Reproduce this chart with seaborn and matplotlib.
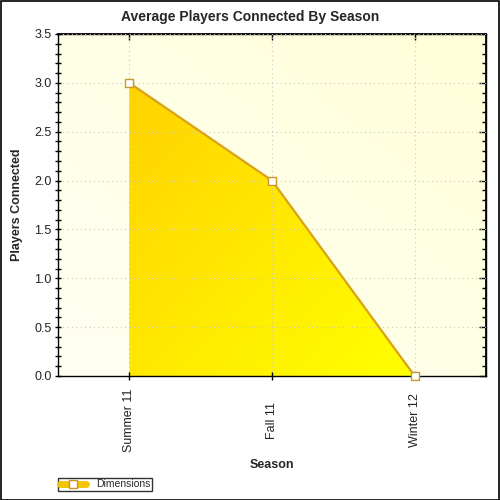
import numpy as np
import pandas as pd
import matplotlib
matplotlib.use("Agg")
import matplotlib.pyplot as plt
import seaborn as sns
from matplotlib.colors import LinearSegmentedColormap
from matplotlib.patches import Rectangle
from matplotlib.lines import Line2D
from matplotlib.ticker import MultipleLocator, NullFormatter

seasons = ["Summer 11", "Fall 11", "Winter 12"]
players = [3.0, 2.0, 0.0]
series_name = "Dimensions"

sns.set_theme(style="white")
plt.rcParams['font.family'] = ['Liberation Sans', 'DejaVu Sans']

df = pd.DataFrame({"Season": seasons, "Players": players, "x": np.arange(len(seasons))})

fig = plt.figure(figsize=(5, 5), dpi=100)
fig.patch.set_facecolor("white")
ax = fig.add_axes([0.116, 0.248, 0.856, 0.684])

# background gradient
bg = LinearSegmentedColormap.from_list("bg", ["#FFFFF2", "#FFFFDA"])
gx, gy = np.meshgrid(np.linspace(0, 1, 200), np.linspace(0, 1, 200))
ax.imshow((gx + (1 - gy)) / 2, cmap=bg, extent=[-0.5, 2.5, 0, 3.5], origin="upper",
          aspect="auto", zorder=0)

ax.set_xlim(-0.5, 2.5)
ax.set_ylim(0, 3.5)

# area with gradient
poly = ax.fill_between(df["x"], df["Players"], 0, color="none", zorder=1)
fillcm = LinearSegmentedColormap.from_list("fill", ["#FFD200", "#FFFF00"])
im = ax.imshow((gx + gy) / 2, cmap=fillcm, extent=[0, 2, 0, 3.0], origin="upper",
               aspect="auto", zorder=2)
im.set_clip_path(poly.get_paths()[0], transform=ax.transData)

sns.lineplot(data=df, x="x", y="Players", ax=ax, color="#D9A21C", linewidth=1.6,
             marker="s", markersize=6, markerfacecolor="white", markeredgecolor="#C8962A",
             markeredgewidth=1, zorder=4, legend=False, clip_on=False)

ax.set_xticks(df["x"])
ax.set_xticklabels(seasons, rotation=90, fontsize=9, va="center")
ax.set_yticks(np.arange(0, 3.51, 0.5))
ax.yaxis.set_minor_locator(MultipleLocator(0.1))
ax.set_yticklabels([f"{v:.1f}" for v in np.arange(0, 3.51, 0.5)], fontsize=9)

ax.grid(True, which="major", linestyle=(0, (1, 3)), color="#C8C8C8", linewidth=0.8, zorder=3)
ax.set_axisbelow(False)

ax.tick_params(axis="y", which="both", direction="inout", length=5, width=1,
               color="black", labelcolor="#222222", left=True, right=False, pad=2)
ax.tick_params(axis="x", which="both", direction="inout", length=6, width=1,
               color="black", labelcolor="#222222", bottom=True, top=False, pad=29)
for s in ax.spines.values():
    s.set_color("black")
    s.set_linewidth(1)

# right / top inward ticks
sy = ax.secondary_yaxis("right")
sy.set_yticks(np.arange(0, 3.51, 0.5))
sy.yaxis.set_minor_locator(MultipleLocator(0.1))
sy.yaxis.set_major_formatter(NullFormatter())
sy.tick_params(axis="y", which="major", direction="in", length=5, width=1, color="black")
sy.tick_params(axis="y", which="minor", direction="in", length=3, width=1, color="black")
sx = ax.secondary_xaxis("top")
sx.set_xticks(df["x"])
sx.xaxis.set_major_formatter(NullFormatter())
sx.tick_params(axis="x", which="major", direction="in", length=4, width=1, color="black")
for s in list(sy.spines.values()) + list(sx.spines.values()):
    s.set_color("black")

ax.set_xlabel("Season", fontsize=9, fontweight="bold", labelpad=5)
ax.set_ylabel("Players Connected", fontsize=9, fontweight="bold", labelpad=8)
fig.suptitle("Average Players Connected By Season", fontsize=10, fontweight="bold",
             x=0.5, y=0.966, va="center")

# legend
handle = Line2D([0], [0], color="#F5C400", linewidth=5, marker="s", markersize=6,
                markerfacecolor="white", markeredgecolor="#C8962A")
leg = fig.legend([handle], [series_name], loc="lower left", bbox_to_anchor=(0.116, 0.018),
                 fontsize=7.5, frameon=True, fancybox=False, borderpad=0.15,
                 handlelength=2.5, handletextpad=1.0, borderaxespad=0)
leg.get_frame().set_edgecolor("black")
leg.get_frame().set_linewidth(1)

fig.patches.append(Rectangle((0.001, 0.001), 0.997, 0.997, transform=fig.transFigure,
                             fill=False, edgecolor="black", linewidth=1.2))

fig.savefig("out.png", dpi=100)
